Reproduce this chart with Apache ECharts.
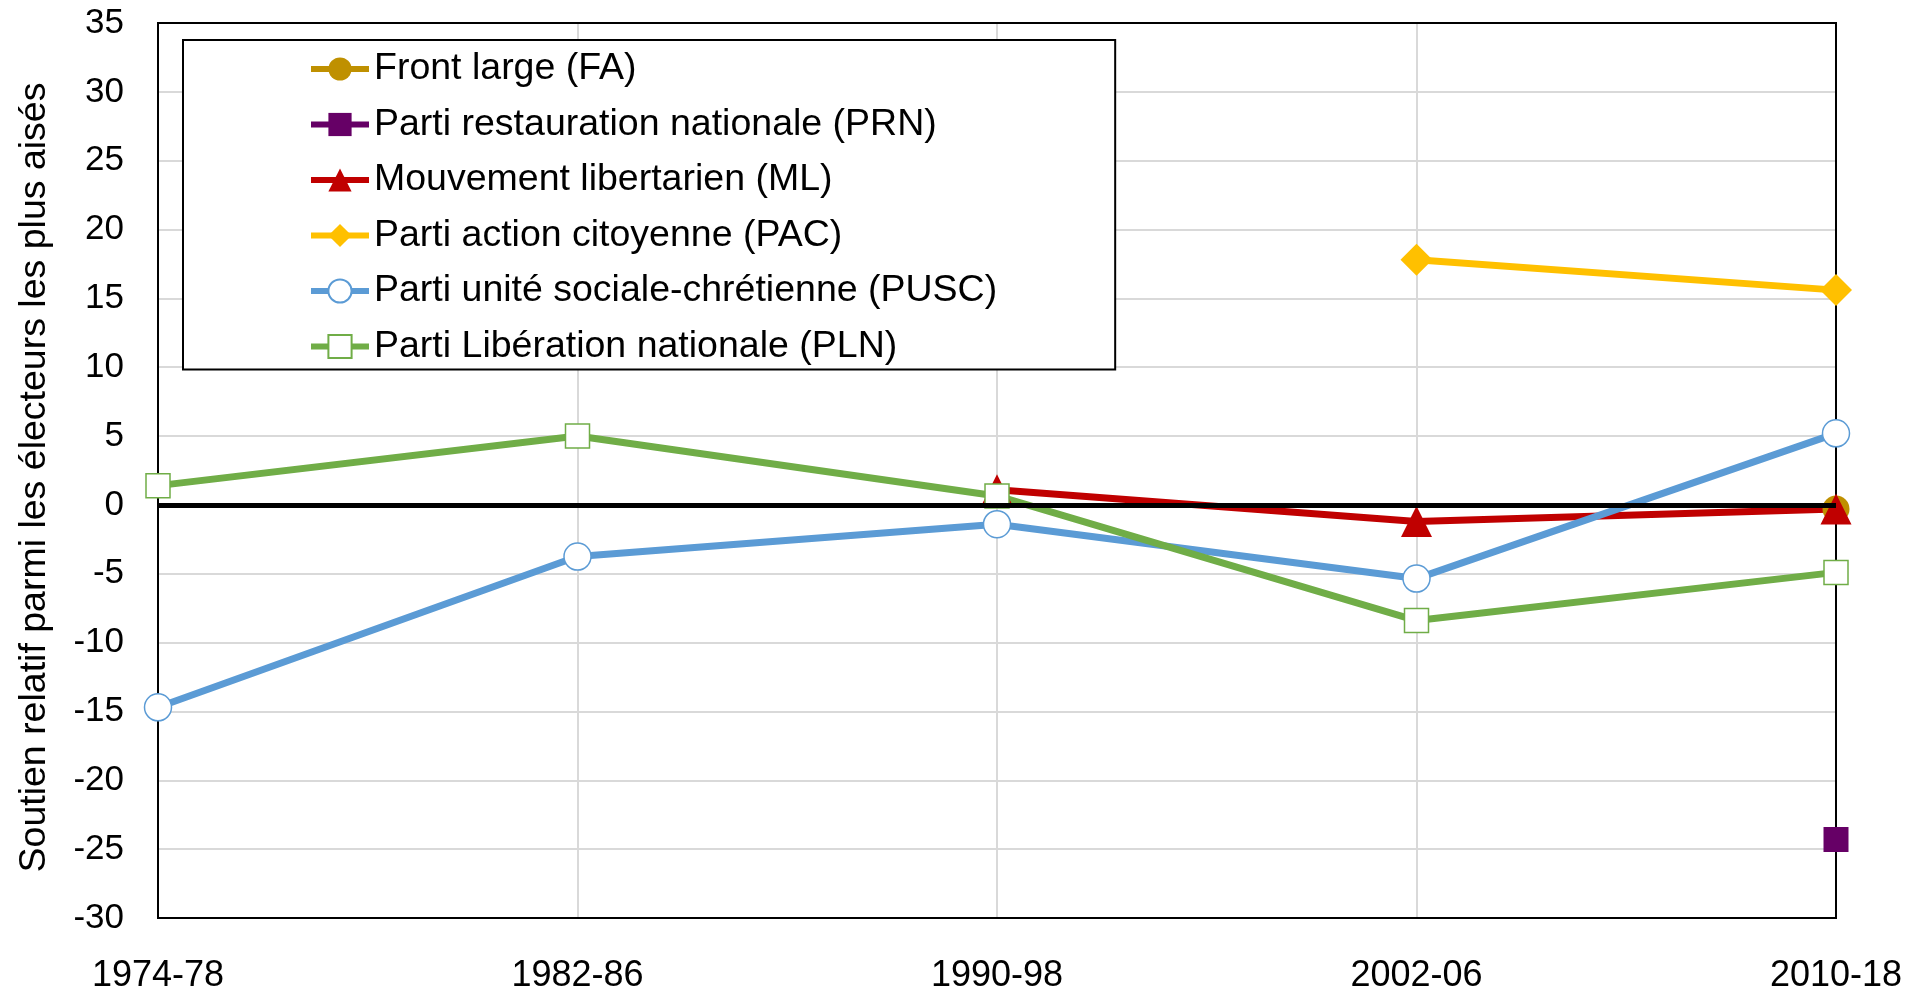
<!DOCTYPE html>
<html>
<head>
<meta charset="utf-8">
<script src="https://cdn.jsdelivr.net/npm/echarts@6/dist/echarts.min.js"></script>
<style>
  html, body { margin: 0; padding: 0; background: #fff; }
  #chart { width: 1926px; height: 990px; }
</style>
</head>
<body>
<div id="chart"></div>
<script>
var periods = ['1974-78', '1982-86', '1990-98', '2002-06', '2010-18'];

var fa   = [null, null, null, null, -0.3];
var prn  = [null, null, null, null, -24.3];
var ml   = [null, null, 1.1, -1.2, -0.3];
var pac  = [null, null, null, 17.8, 15.6];
var pusc = [-14.7, -3.75, -1.4, -5.35, 5.2];
var pln  = [1.4, 5.0, 0.65, -8.4, -4.9];

var font = 'Liberation Sans, Arial, sans-serif';

function line(name, data, color, symbol, size, hollow) {
  return {
    name: name,
    type: 'line',
    data: data,
    symbol: symbol,
    symbolSize: size,
    showAllSymbol: true,
    connectNulls: false,
    lineStyle: { color: color, width: 7 },
    itemStyle: hollow
      ? { color: '#fff', borderColor: color, borderWidth: 1.5 }
      : { color: color },
    emphasis: { disabled: true }
  };
}

var series = [
  line('Front large (FA)', fa, '#BF9000', 'circle', 27),
  line('Parti restauration nationale (PRN)', prn, '#660066', 'rect', 25),
  line('Mouvement libertarien (ML)', ml, '#C00000', 'triangle', 31),
  line('Parti action citoyenne (PAC)', pac, '#FFC000', 'diamond', 32),
  line('Parti unité sociale-chrétienne (PUSC)', pusc, '#5B9BD5', 'circle', 27, true),
  line('Parti Libération nationale (PLN)', pln, '#70AD47', 'rect', 24, true)
];

// zero reference line, drawn beneath the other series
series[0].markLine = {
  silent: true,
  symbol: 'none',
  label: { show: false },
  lineStyle: { color: '#000', width: 5, type: 'solid' },
  data: [{ yAxis: 0 }]
};

var chart = echarts.init(document.getElementById('chart'));
chart.setOption({
  animation: false,
  backgroundColor: '#fff',
  textStyle: { fontFamily: font },
  grid: {
    left: 158, right: 90, top: 23, bottom: 72,
    outerBoundsMode: 'none',
    containLabel: false,
    show: true, z: 1,
    borderColor: '#000', borderWidth: 2,
    backgroundColor: 'transparent'
  },
  legend: {
    orient: 'vertical',
    left: 183, top: 40,
    padding: [10, 118, 4, 125],
    borderColor: '#000', borderWidth: 2,
    backgroundColor: '#fff',
    itemWidth: 58, itemHeight: 29, itemGap: 17.5,
    lineStyle: { width: 6 },
    textStyle: { fontSize: 37.5, color: '#000', fontFamily: font },
    data: series.map(function (s) { return s.name; })
  },
  xAxis: {
    type: 'category',
    data: periods,
    boundaryGap: false,
    axisLine: { show: false, onZero: false },
    axisTick: { show: false },
    axisLabel: { fontSize: 36, color: '#000', margin: 40, fontFamily: font },
    splitLine: { show: true, lineStyle: { color: '#d9d9d9', width: 2 } }
  },
  yAxis: {
    type: 'value',
    min: -30, max: 35, interval: 5,
    axisLine: { show: false },
    axisTick: { show: false },
    axisLabel: { fontSize: 35, color: '#000', margin: 34, fontFamily: font },
    splitLine: { show: true, lineStyle: { color: '#d9d9d9', width: 2 } },
    name: 'Soutien relatif parmi les électeurs les plus aisés',
    nameLocation: 'middle',
    nameGap: 104,
    nameTextStyle: { fontSize: 37.5, color: '#000', fontFamily: font, padding: [0, 14, 0, 0] }
  },
  series: series
});
</script>
</body>
</html>
